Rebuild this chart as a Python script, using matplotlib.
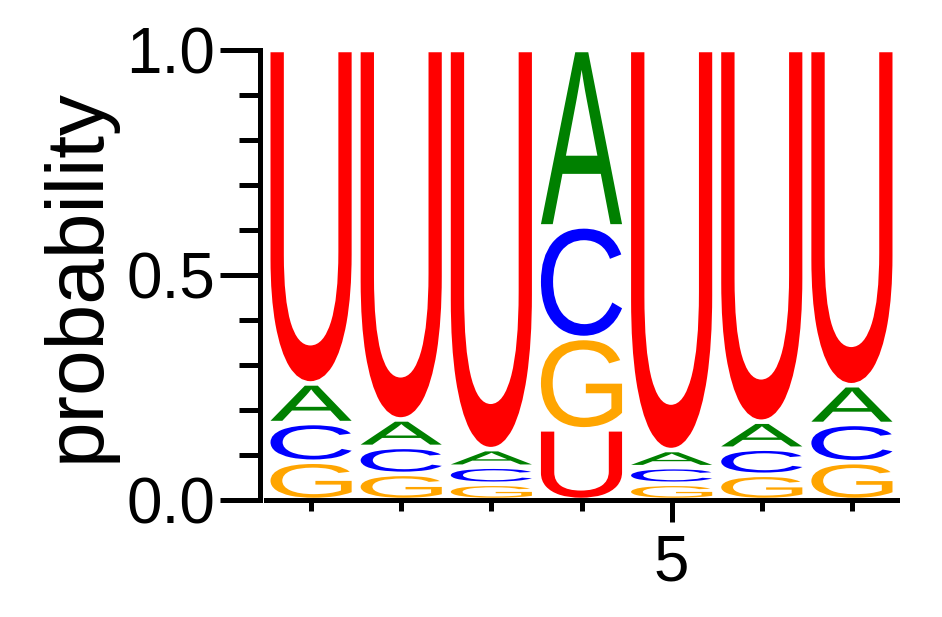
import matplotlib
matplotlib.use('Agg')
import matplotlib.pyplot as plt
from matplotlib.textpath import TextPath
from matplotlib.font_manager import FontProperties
from matplotlib.patches import PathPatch
from matplotlib.transforms import Affine2D
from matplotlib.ticker import FixedLocator

# sequence logo data: probability of each base at each position
positions = [1, 2, 3, 4, 5, 6, 7]
prob_A = [0.088, 0.061, 0.039, 0.392, 0.038, 0.060, 0.086]
prob_C = [0.086, 0.060, 0.038, 0.248, 0.037, 0.058, 0.085]
prob_G = [0.085, 0.058, 0.036, 0.203, 0.036, 0.056, 0.084]
prob_U = [0.741, 0.821, 0.887, 0.157, 0.889, 0.826, 0.745]

colors = {'A': '#008000', 'C': '#0000ff', 'G': '#ffa500', 'U': '#ff0000'}

plt.rcParams['font.family'] = ['Liberation Sans', 'DejaVu Sans']
fp = FontProperties(family='Liberation Sans')


def draw_letter(ax, letter, x, y0, h, color, width=0.9, pad=0.005):
    path = TextPath((0, 0), letter, size=1, prop=fp)
    bb = path.get_extents()
    bot = y0 + pad
    hh = max(h - 2 * pad, 1e-4)
    t = Affine2D().translate(-bb.x0, -bb.y0) \
        .scale(width / bb.width, hh / bb.height) \
        .translate(x - width / 2, bot)
    ax.add_patch(PathPatch(t.transform_path(path), facecolor=color,
                           edgecolor='none', lw=0))


fig = plt.figure(figsize=(9.42, 6.17), dpi=100)
ax = fig.add_axes([266 / 942, 117 / 617, 631 / 942, 450 / 617])

for i, pos in enumerate(positions):
    col = {'A': prob_A[i], 'C': prob_C[i], 'G': prob_G[i], 'U': prob_U[i]}
    y = 0.0
    for base, p in sorted(col.items(), key=lambda kv: kv[1]):
        draw_letter(ax, base, pos, y, p, colors[base])
        y += p

ax.set_xlim(0.5, 7.5)
ax.set_ylim(0, 1)

for s in ['top', 'right']:
    ax.spines[s].set_visible(False)
ax.spines['left'].set_linewidth(3.6)
ax.spines['bottom'].set_linewidth(3.6)
ax.spines['left'].set_position(('outward', 4))

ax.yaxis.set_major_locator(FixedLocator([0.0, 0.5, 1.0]))
ax.yaxis.set_minor_locator(FixedLocator([0.1, 0.2, 0.3, 0.4, 0.6, 0.7, 0.8, 0.9]))
ax.set_yticklabels(['0.0', '0.5', '1.0'])
ax.xaxis.set_major_locator(FixedLocator([5]))
ax.xaxis.set_minor_locator(FixedLocator([1, 2, 3, 4, 6, 7]))
ax.set_xticklabels(['5'])

ax.tick_params(axis='y', which='major', length=29, width=3.6, labelsize=46, pad=3.5)
ax.tick_params(axis='y', which='minor', length=14.8, width=3.6)
ax.tick_params(axis='x', which='major', length=15.8, width=3.6, labelsize=46, pad=8)
ax.tick_params(axis='x', which='minor', length=8, width=3.6)

ax.set_ylabel('probability', fontsize=59, labelpad=8)

fig.savefig('out.png', dpi=100)
